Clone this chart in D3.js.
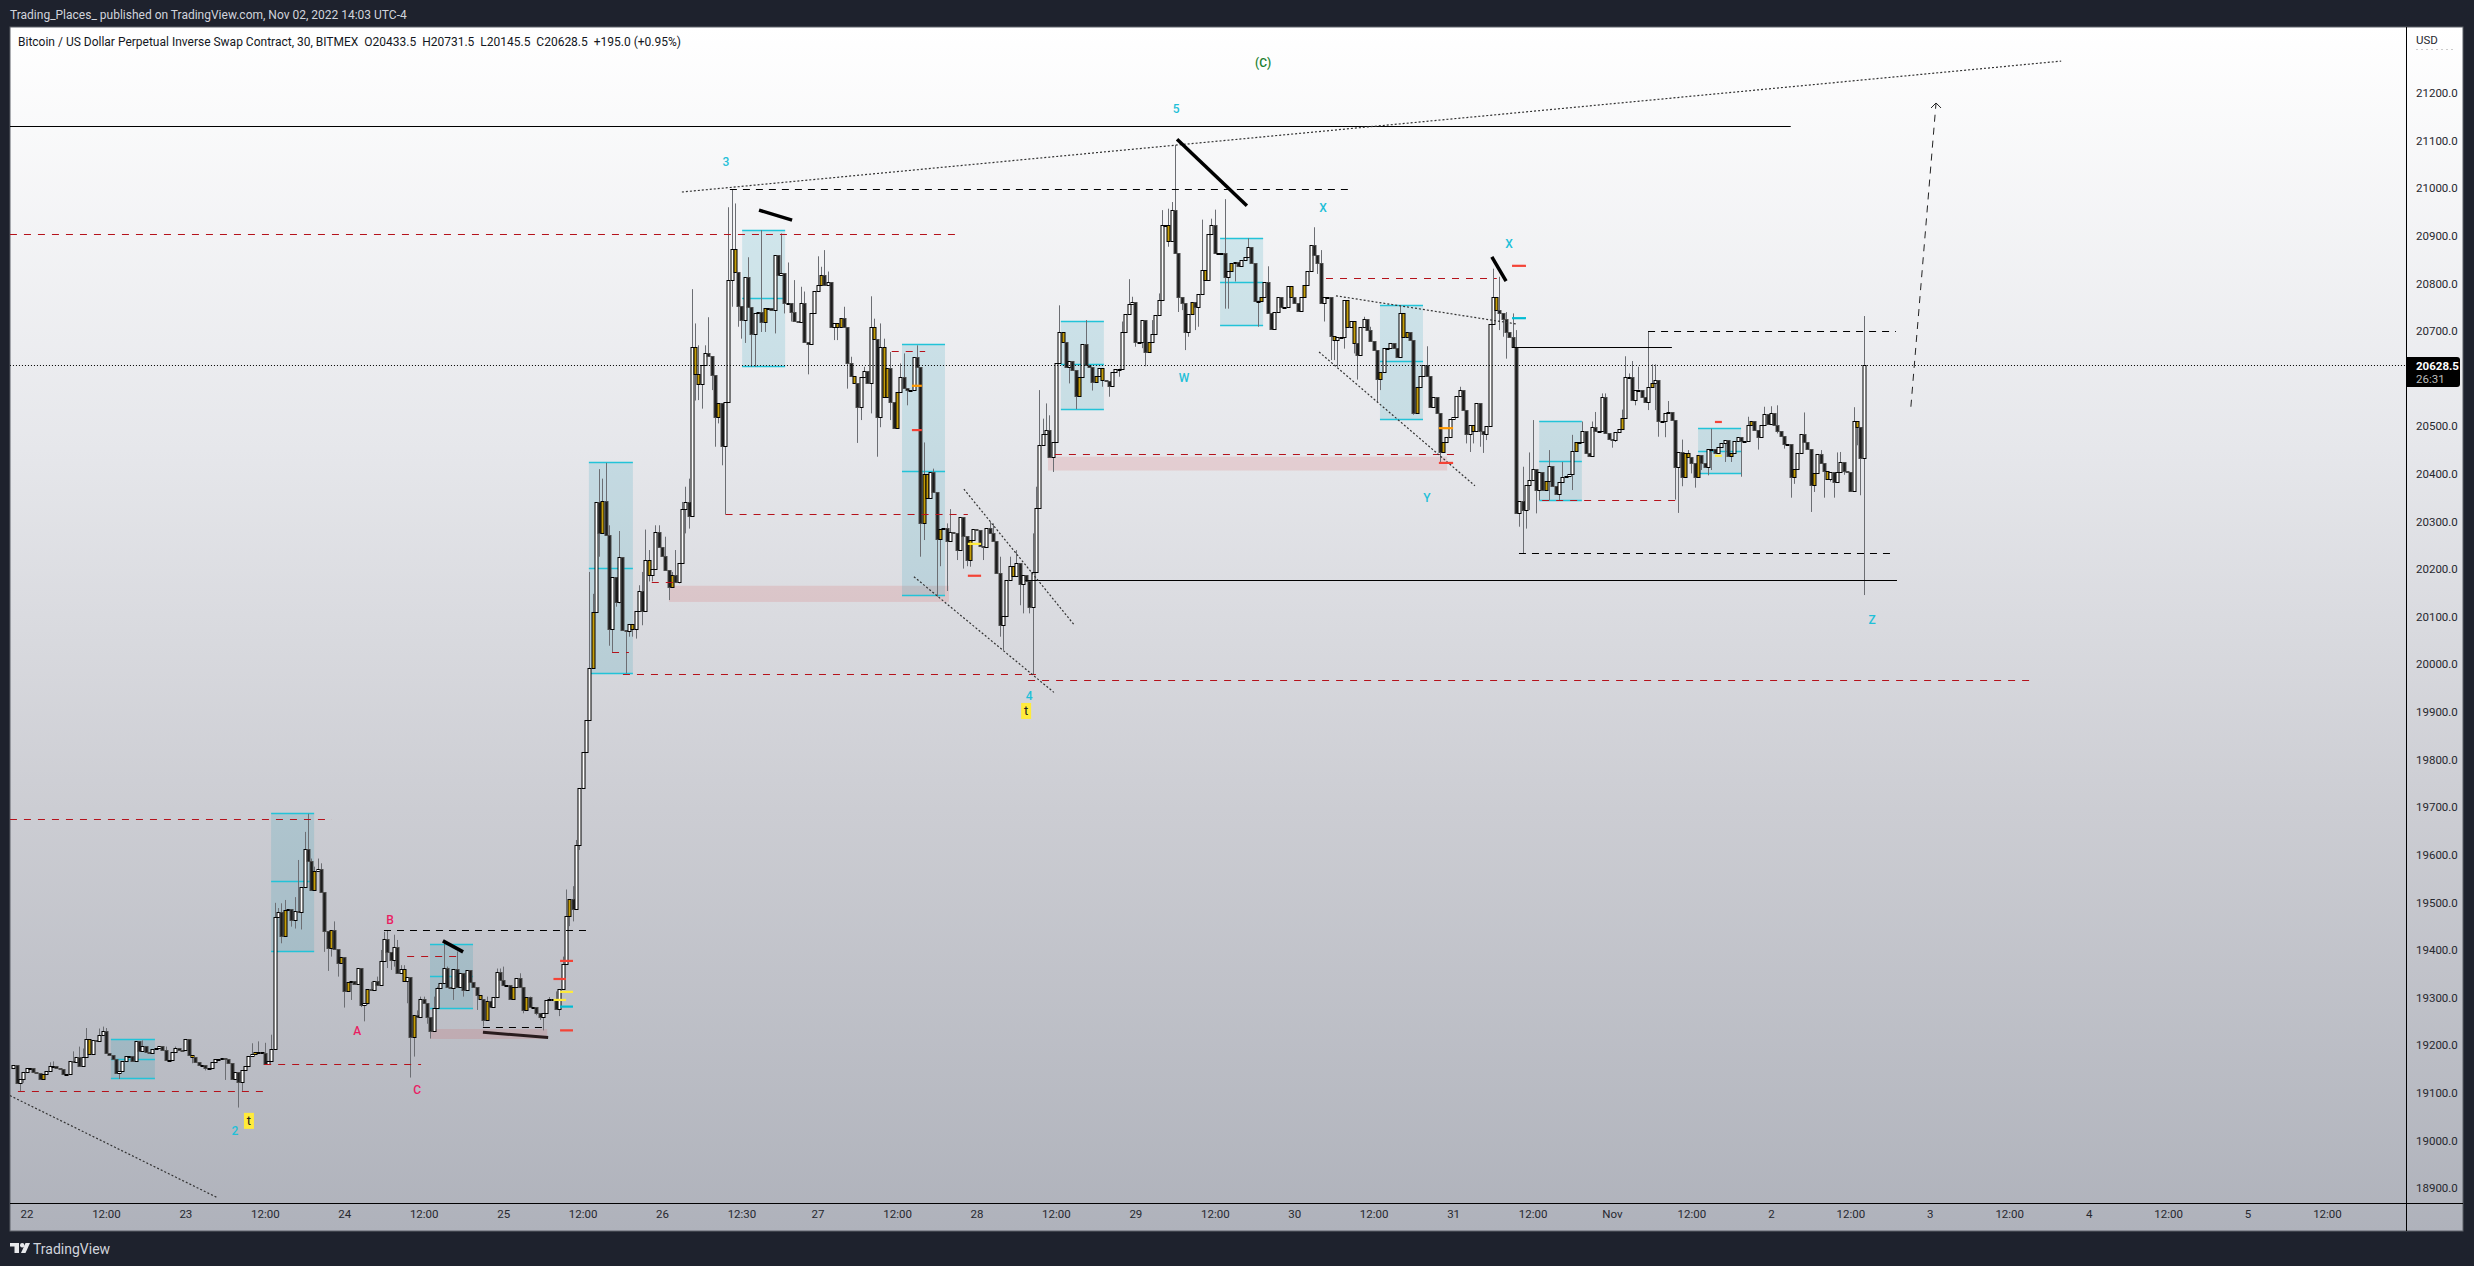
<!DOCTYPE html>
<html><head><meta charset="utf-8">
<script src="https://cdn.jsdelivr.net/npm/d3@7/dist/d3.min.js"></script>
<style>html,body{margin:0;padding:0;background:#1e222d}svg{display:block}text{font-family:Roboto,"Noto Sans",sans-serif}</style>
</head><body><div id="chart"></div>
<script>
// ---------- candle closes (30 minute bars) ----------
const firstBarIndex = -4, firstOpen = 19153;
const closesOct22 = [19158,19120,19129,19143,19152,19153,19143,19141,19129,19139,19145,19156,19157,19152,19150,19139,19139,19166,19165,19175,19156,19175,19213,19181,19210,19208,19221,19229,19183,19179,19172,19141,19145,19166,19177,19178,19166,19208,19187,19198,19185,19184,19191,19195,19198,19189,19168,19168,19186,19195,19190,19189,19213,19180,19175,19165,19158,19158,19153,19153,19164,19172,19172,19174,19172,19162,19129,19144,19122,19147,19156,19177,19181,19186,19186,19184,19160,19166,19193];
const closesOct23 = [19469,19479,19430,19483,19486,19463,19481,19479,19533,19613,19586,19525,19565,19570,19521,19440,19404,19441,19402,19372,19385,19313,19333,19334,19328,19362,19285,19288,19318,19316,19334,19326,19376,19424,19395,19379,19407,19351,19360,19334,19344,19217,19263,19260,19297,19288,19259,19230,19278,19320,19330,19362,19323,19320,19360,19323,19351,19315,19357,19332,19323,19306,19298,19252,19292,19281,19302,19353,19336,19326,19326,19297,19322,19341,19323,19273,19301,19281,19281,19267,19260,19267,19294,19298,19298,19276,19319,19371,19472,19507,19486,19620,19740,19816,19883,19992];
const closesOct25 = [20110,20340,20275,20342,20271,20075,20183,20130,20225,20073,20070,20084,20075,20113,20153,20112,20219,20187,20201,20277,20246,20228,20198,20163,20187,20173,20212,20327,20340,20312,20667,20610,20588,20629,20653,20647,20607,20520,20549,20458,20551,20808,20873,20823,20752,20723,20814,20750,20694,20737,20740,20718,20749,20749,20744,20859,20817,20822,20758,20758,20741,20722,20718,20759,20678,20673,20738,20785,20797,20817,20797,20803,20709,20717,20708,20728,20709,20633,20605,20591,20541,20603,20617,20590,20709,20684,20520,20667,20562,20622,20552,20496,20573,20603,20580,20576,20576,20645,20625,20296,20399,20350,20403,20362,20264,20285,20286,20258,20277,20275,20241,20309,20269,20219,20262,20285,20283,20248,20247,20287,20276,20258,20191,20082,20102,20178,20207,20186,20213,20168,20188,20176,20120,20194,20329,20460,20484,20492,20435,20467,20633,20698,20676,20625,20638,20619,20563,20604];
const closesOct28 = [20673,20628,20625,20592,20606,20622,20598,20596,20585,20615,20621,20621,20699,20736,20757,20760,20677,20677,20724,20656,20678,20694,20733,20766,20922,20922,20890,20954,20863,20771,20758,20699,20735,20762,20751,20777,20829,20808,20903,20922,20863,20864,20864,20813,20827,20842,20845,20836,20850,20855,20877,20843,20764,20764,20772,20804,20738,20705,20741,20772,20750,20750,20794,20771,20758,20743,20772,20796,20827,20880,20859,20842,20758,20772,20772,20690,20681,20687,20687,20766,20708,20722,20674,20650,20708,20726,20703,20680,20660,20600,20614,20665,20665,20674,20665,20646,20737,20687,20698,20682,20527,20583,20605,20628,20605,20540,20561,20528,20446,20467,20477,20516,20519,20564,20577,20535,20483,20502,20489,20548,20489,20484,20500,20715,20771,20745,20737,20726,20699,20688,20666,20318];
const closesOct31 = [20342,20325,20376,20388,20411,20367,20403,20367,20386,20416,20374,20358,20382,20393,20395,20399,20449,20467,20467,20489,20443,20437,20499,20489,20491,20562,20485,20474,20471,20487,20495,20518,20603,20603,20556,20577,20577,20562,20551,20583,20590,20598,20511,20511,20527,20530,20514,20414,20445,20394,20443,20435,20422,20393,20439,20423,20414,20453,20453,20443,20457,20464,20472,20437,20443,20468,20477,20468,20468,20502,20512,20493,20477,20502,20525,20505,20527,20502,20489,20480,20462,20462,20394,20411,20443,20483,20466,20453,20376,20401,20441,20422,20405,20390,20403,20382,20403,20424,20407,20403,20363,20512,20498,20433.5,20628.5];
const goldBars = [5,19,50,69,71,78,87,92,95,97,103,114,117,137,139,147,151,164,171,174,183,188,195,202,203,209,214,223,240,245,246,250,256,259,260,263,271,272,276,285,298,313,318,323,325,339,345,352,356,364,373,382,386,395,399,401,409,416,417,420,428,437,444,459,468,482,491,501,502,505,515,521,534,540,544,553];

// ---------- wick tips as [bar, price] ----------
const wicksOct22 = [[-2,19102],[-1,19121],[7,19164],[8,19166],[14,19187],[16,19197],[17,19193],[18,19236],[22,19235],[23,19239],[24,19236],[28,19129],[35,19210],[42,19197],[45,19197],[50,19162],[54,19147],[60,19127],[64,19069],[65,19104],[68,19204],[70,19208],[72,19205],[74,19222]];
const wicksOct23 = [[75,19499],[76,19488],[77,19414],[77,19498],[78,19505],[80,19449],[81,19511],[81,19445],[82,19589],[83,19443],[84,19648],[85,19686],[86,19592],[87,19575],[88,19592],[89,19582],[90,19396],[91,19356],[92,19386],[93,19460],[94,19344],[96,19279],[98,19295],[101,19280],[102,19250],[103,19285],[104,19333],[106,19344],[107,19400],[108,19438],[109,19440],[109,19362],[110,19358],[111,19432],[111,19365],[112,19421],[113,19368],[114,19368],[115,19288],[116,19132],[117,19176],[118,19273],[119,19302],[120,19302],[121,19245],[122,19214],[123,19302],[124,19323],[126,19421],[127,19365],[129,19295],[130,19397],[132,19302],[136,19274],[138,19239],[139,19302],[142,19361],[143,19361],[144,19365],[149,19351],[150,19267],[152,19302],[154,19263],[155,19253],[156,19231],[158,19301],[160,19275],[160,19313],[161,19261],[161,19316],[162,19386],[163,19527],[164,19450],[165,19534],[165,19460],[166,19631],[167,19610]];
const wicksOct25 = [[170,20194],[171,20148],[173,20410],[173,20226],[174,20390],[175,20423],[176,20039],[176,20292],[177,20026],[178,20121],[179,20280],[179,20128],[181,19981],[182,20058],[183,20058],[184,20054],[185,20166],[186,20194],[186,20082],[187,20283],[188,20240],[188,20174],[189,20174],[190,20292],[191,20292],[192,20240],[193,20268],[194,20135],[195,20194],[196,20240],[197,20170],[198,20341],[199,20373],[199,20275],[200,20390],[200,20285],[201,20788],[202,20716],[202,20554],[203,20670],[203,20555],[204,20537],[205,20670],[206,20729],[207,20576],[208,20457],[209,20506],[210,20418],[211,20315],[212,20960],[213,20997],[213,20751],[214,20968],[215,20709],[216,20684],[217,20675],[218,20855],[219,20625],[220,20625],[222,20912],[222,20698],[223,20698],[226,20695],[228,20905],[229,20737],[230,20844],[231,20720],[232,20807],[234,20793],[235,20783],[236,20609],[239,20857],[240,20835],[241,20870],[242,20825],[244,20681],[245,20681],[247,20751],[248,20579],[249,20646],[251,20465],[252,20513],[253,20625],[255,20773],[255,20527],[256,20726],[257,20436],[258,20716],[258,20498],[259,20684],[261,20656],[261,20513],[264,20632],[265,20653],[266,20544],[269,20670],[270,20226],[271,20466],[271,20261],[274,20411],[275,20142],[276,20206],[278,20154],[278,20296],[279,20326],[281,20219],[283,20201],[284,20206],[285,20205],[289,20219],[291,20300],[292,20296],[294,20058],[294,20226],[295,20030],[297,20226],[299,20240],[300,20124],[301,20107],[303,20107],[304,19978],[304,20275],[305,20373],[306,20576],[307,20516],[308,20548],[309,20523],[310,20404],[312,20754],[315,20590],[317,20536]];
const wicksOct28 = [[320,20723],[322,20575],[325,20583],[327,20562],[330,20604],[331,20720],[333,20809],[334,20772],[335,20667],[337,20664],[338,20626],[340,20723],[342,20779],[343,20954],[345,20957],[345,20877],[346,20971],[347,21090.5],[348,20740],[349,20744],[350,20660],[351,20688],[353,20702],[354,20709],[355,20934],[356,20807],[358,20936],[359,20955],[362,20977],[362,20747],[363,20747],[365,20804],[369,20895],[372,20709],[375,20836],[389,20918],[390,20820],[391,20870],[392,20720],[394,20639],[395,20639],[396,20625],[398,20663],[401,20653],[402,20598],[404,20730],[406,20709],[408,20551],[409,20576],[415,20754],[419,20524],[423,20668],[426,20527],[427,20422],[433,20583],[435,20464],[436,20446],[437,20464],[439,20457],[440,20444],[441,20471],[443,20831],[445,20814],[445,20702],[446,20688],[447,20740],[447,20642],[449,20737],[450,20702]];
const wicksOct31 = [[451,20289],[452,20233],[452,20415],[453,20285],[454,20445],[454,20324],[455,20513],[456,20317],[457,20345],[460,20450],[460,20345],[463,20345],[464,20425],[467,20482],[467,20366],[470,20510],[473,20510],[474,20530],[476,20569],[477,20569],[479,20455],[480,20467],[482,20535],[483,20647],[484,20611],[485,20637],[486,20544],[487,20625],[490,20699],[490,20534],[491,20630],[492,20630],[492,20534],[493,20478],[495,20477],[496,20553],[498,20346],[499,20318],[500,20472],[500,20374],[502,20450],[503,20401],[504,20371],[506,20408],[508,20397],[509,20495],[509,20408],[513,20425],[515,20425],[518,20394],[520,20520],[523,20451],[525,20541],[527,20542],[529,20544],[529,20485],[531,20453],[533,20350],[534,20379],[537,20529],[539,20320],[540,20362],[542,20450],[543,20350],[545,20384],[546,20350],[547,20445],[548,20446],[549,20398],[552,20540],[553,20460],[554,20355],[555,20731.5],[555,20145.5]];

// ---------- axes ----------
const priceTicks = [21200,21100,21000,20900,20800,20700,20500,20400,20300,20200,20100,20000,19900,19800,19700,19600,19500,19400,19300,19200,19100,19000,18900];
const timeTickBars = [0,24,48,72,96,120,144,168,192,216,239,263,287,311,335,359,383,407,431,455,479,503,527,551,575,599,623,647,671,695];
const timeTickLabels = ["22","12:00","23","12:00","24","12:00","25","12:00","26","12:30","27","12:00","28","12:00","29","12:00","30","12:00","31","12:00","Nov","12:00","2","12:00","3","12:00","4","12:00","5","12:00"];
const lastPrice = 20628.5;

// ---------- drawings: [bar0, bar1, top, mid, bottom] ----------
const fibBoxes = [[25.5,38.8,19211,19169,19129],[73.9,86.9,19686,19543,19396],[121.9,134.9,19411,19344,19278],[169.9,183.2,20423,20202,19980],[216.2,229.2,20912,20769,20625],[264.5,277.5,20671,20406,20144],[312.5,325.5,20721,20629,20536],[360.6,373.6,20895,20803,20711],[408.9,421.9,20753,20635,20515],[457,469.9,20511,20427,20345],[505,518,20496,20448,20400]];
const pinkZones = [[121.9,157.3,19234,19213],[194.1,278.7,20165,20131],[308.6,429.2,20436,20407]];
const redDashed = [[-5,92.3,19673],[-2.6,72.4,19103],[71.8,119.2,19160],[115,130,19387],[-5,282.3,20903],[176.9,182,20024],[180.2,306.2,19979],[188.9,197.4,20171],[211.2,284.4,20315],[261.4,271.5,20656],[302.6,606.5,19967],[310.7,431.9,20441],[392.6,444.2,20811],[457.9,499.2,20345]];
const blackSolid = [[-5,533,21129],[301.7,565.1,20176],[448.8,497.1,20666]];
const blackDashed = [[212.5,399.2,20998],[108,169.3,19440],[137.9,156,19238],[489.9,564.8,20700],[450.9,564.5,20233]];
const dottedTrends = [[-5,19094,57.6,18880],[198,20992,614.7,21267],[283.2,20368,316.5,20083],[268.1,20184,310.4,19941],[395.6,20774,450,20715],[390.5,20656,437.6,20375]];
const thickTrends = [[125.8,19419,131.9,19396,3.5,"#000"],[137.9,19227,157.6,19216,3,"#2a1c1e"],[221.3,20954,231.3,20933,3.5,"#000"],[347.6,21103,368.7,20963,3.5,"#000"],[442.7,20856,447,20805,3.5,"#000"]];
const shortTicks = [[161.2,165.1,19377,"#f44336"],[159.2,163,19339,"#f44336"],[161.2,165.1,19312,"#ffeb3b"],[159.2,163,19295,"#ffeb3b"],[161.2,165.1,19281,"#00bcd4"],[161.2,165.1,19231,"#f44336"],[267.5,270.5,20585,"#ff9800"],[267.5,270.5,20492,"#f44336"],[284.4,288.4,20253,"#ffeb3b"],[284.4,288.4,20186,"#f44336"],[448.8,453,20837,"#f44336"],[448.8,453,20727,"#00bcd4"],[426.7,431,20496,"#ff9800"],[426.7,431,20423,"#f44336"],[510.1,512.2,20509,"#f44336"],[510.1,512.2,20438,"#ffeb3b"]];
const waveLabels = [[373.6,21263,"(C)","#1b7f2e"],[347.3,21166,"5","#1fc0d8"],[211.3,21055,"3","#1fc0d8"],[391.7,20958,"X","#1fc0d8"],[447.9,20883,"X","#1fc0d8"],[349.7,20601,"W","#1fc0d8"],[423.1,20349,"Y","#1fc0d8"],[557.6,20093,"Z","#1fc0d8"],[302.9,19934,"4","#1fc0d8"],[63,19020,"2","#1fc0d8"],[99.9,19230,"A","#e91e63"],[109.8,19463,"B","#e91e63"],[118,19106,"C","#e91e63"]];
const tTags = [[302,19902],[67.2,19041]];
const arrowPath = [569.3,20541,576.9,21179];

const W = 2474, H = 1266, L = 10, T = 27, R = 2463, B = 1231, PR = 2406.5, TB = 1203.5;
const x = d3.scaleLinear().domain([0,555]).range([26.5,1863.55]);
const y = d3.scaleLinear().domain([21200,18900]).range([93,1188]);

const closes = [...closesOct22,...closesOct23,...closesOct25,...closesOct28,...closesOct31];
const gold = new Set(goldBars);
const bars = closes.map((c,k)=>({i:firstBarIndex+k,o:k?closes[k-1]:firstOpen,c}));
const wicks = [...wicksOct22,...wicksOct23,...wicksOct25,...wicksOct28,...wicksOct31];
const byIndex = new Map(bars.map(b=>[b.i,b]));

const svg = d3.select("#chart").append("svg").attr("width",W).attr("height",H);
const defs = svg.append("defs");
const grad = defs.append("linearGradient").attr("id","bg").attr("x1",0).attr("x2",0).attr("y1",0).attr("y2",1);
[[0,"#ffffff"],[0.35,"#e6e7eb"],[0.65,"#cccdd3"],[1,"#afb2bb"]].forEach(s=>grad.append("stop").attr("offset",s[0]).attr("stop-color",s[1]));
defs.append("clipPath").attr("id","plot").append("rect").attr("x",L).attr("y",T).attr("width",PR-L).attr("height",TB-T);

svg.append("rect").attr("width",W).attr("height",H).attr("fill","#1e222d");
svg.append("rect").attr("x",L).attr("y",T).attr("width",R-L).attr("height",B-T).attr("fill","url(#bg)").attr("stroke","#5d6069");

const plot = svg.append("g").attr("clip-path","url(#plot)");
const px = v=>Math.round(x(v));

// pink zones and boxes
plot.append("g").selectAll("rect").data(pinkZones).join("rect")
 .attr("x",d=>x(d[0])).attr("width",d=>x(d[1])-x(d[0])).attr("y",d=>y(d[2])).attr("height",d=>y(d[3])-y(d[2])).attr("fill","rgba(215,70,70,.15)");
plot.append("g").selectAll("rect").data(fibBoxes).join("rect")
 .attr("x",d=>x(d[0])).attr("width",d=>x(d[1])-x(d[0])).attr("y",d=>y(d[2])).attr("height",d=>y(d[4])-y(d[2])).attr("fill","rgba(0,150,175,.14)");
const hline = (g,data,col,w,dash)=>g.append("g").selectAll("line").data(data).join("line")
 .attr("x1",d=>x(d[0])).attr("x2",d=>x(d[1])).attr("y1",d=>Math.floor(y(d[2]))+.5).attr("y2",d=>Math.floor(y(d[2]))+.5)
 .attr("stroke",col).attr("stroke-width",w).attr("stroke-dasharray",dash||null);
[2,3,4].forEach(k=>hline(plot,fibBoxes.map(d=>[d[0],d[1],d[k]]),"#22c3d8",1.6));

// wicks then candles
plot.append("g").selectAll("line").data(wicks).join("line")
 .attr("x1",d=>px(d[0])+.5).attr("x2",d=>px(d[0])+.5)
 .attr("y1",d=>y(d[1])).attr("y2",d=>{const b=byIndex.get(d[0]);return y((b.o+b.c)/2);})
 .attr("stroke","#6c6e73").attr("stroke-width",1);
plot.append("g").selectAll("rect").data(bars).join("rect")
 .attr("x",d=>px(d.i)-1).attr("width",3)
 .attr("y",d=>Math.round(y(Math.max(d.o,d.c)))+.5)
 .attr("height",d=>Math.max(1,Math.round(y(Math.min(d.o,d.c)))-Math.round(y(Math.max(d.o,d.c)))))
 .attr("fill",d=>gold.has(d.i)?"#c49d0a":(d.c>=d.o?"#ffffff":"#1c1c1c"))
 .attr("stroke",d=>(d.c>=d.o||gold.has(d.i))?"#000":"#4a4a4a").attr("stroke-width",1);

// level lines
hline(plot,redDashed,"#b5121b",1,"7 7");
hline(plot,blackSolid,"#000",1.2);
hline(plot,blackDashed,"#000",1,"7 6");
hline(plot,[[-5,720,lastPrice]],"#000",1,"1 2");

plot.append("g").selectAll("line").data(dottedTrends).join("line")
 .attr("x1",d=>x(d[0])).attr("y1",d=>y(d[1])).attr("x2",d=>x(d[2])).attr("y2",d=>y(d[3]))
 .attr("stroke","#333").attr("stroke-width",1.2).attr("stroke-dasharray","2 2");
plot.append("g").selectAll("line").data(thickTrends).join("line")
 .attr("x1",d=>x(d[0])).attr("y1",d=>y(d[1])).attr("x2",d=>x(d[2])).attr("y2",d=>y(d[3]))
 .attr("stroke",d=>d[5]).attr("stroke-width",d=>d[4]);
plot.append("g").selectAll("line").data(shortTicks).join("line")
 .attr("x1",d=>x(d[0])).attr("x2",d=>x(d[1])).attr("y1",d=>y(d[2])).attr("y2",d=>y(d[2]))
 .attr("stroke",d=>d[3]).attr("stroke-width",2.2);

// dashed arrow
const [ax0,ay0,ax1,ay1] = [x(arrowPath[0]),y(arrowPath[1]),x(arrowPath[2]),y(arrowPath[3])];
plot.append("line").attr("x1",ax0).attr("y1",ay0).attr("x2",ax1).attr("y2",ay1).attr("stroke","#222").attr("stroke-width",1).attr("stroke-dasharray","7 6");
plot.append("path").attr("d",d3.line()([[ax1-5,ay1+5],[ax1,ay1],[ax1+5,ay1+5]])).attr("fill","none").attr("stroke","#222").attr("stroke-width",1);

// labels
plot.append("g").selectAll("text").data(waveLabels).join("text")
 .attr("x",d=>x(d[0])).attr("y",d=>y(d[1])).attr("text-anchor","middle").attr("dominant-baseline","central")
 .attr("fill",d=>d[3]).attr("font-size",12).attr("font-weight",500).text(d=>d[2]);
const tag = plot.append("g").selectAll("g").data(tTags).join("g");
tag.append("rect").attr("x",d=>x(d[0])-5).attr("y",d=>y(d[1])-8).attr("width",10).attr("height",16).attr("fill","#ffeb3b");
tag.append("text").attr("x",d=>x(d[0])).attr("y",d=>y(d[1])).attr("text-anchor","middle").attr("dominant-baseline","central").attr("font-size",13).attr("fill","#222").text("t");

// axes
svg.append("line").attr("x1",PR).attr("x2",PR).attr("y1",T).attr("y2",B).attr("stroke","#000");
svg.append("line").attr("x1",L).attr("x2",R).attr("y1",TB).attr("y2",TB).attr("stroke","#000");
const yAxis = d3.axisRight(y).tickValues(priceTicks).tickSize(0).tickPadding(0).tickFormat(d3.format(".1f"));
const gy = svg.append("g").attr("transform","translate(2416,0)").call(yAxis);
gy.select(".domain").remove();
gy.selectAll("text").attr("font-size",11.5).attr("fill","#26282f").attr("x",0).attr("font-family","Roboto");
const timeAxisScale = d3.scaleOrdinal().domain(timeTickBars).range(timeTickLabels);
const xAxis = d3.axisBottom(x).tickValues(timeTickBars).tickSize(0).tickPadding(0).tickFormat(d=>timeAxisScale(d));
const gx = svg.append("g").attr("transform","translate(0,1210)").call(xAxis);
gx.select(".domain").remove();
gx.selectAll("text").attr("font-size",11.5).attr("fill","#26282f").attr("font-family","Roboto");

// price label
svg.append("path").attr("d","M2407 357H2457a3 3 0 0 1 3 3V384a3 3 0 0 1 -3 3H2407Z").attr("fill","#000");
svg.append("text").attr("x",2416).attr("y",366).attr("dominant-baseline","central").attr("font-size",11.5).attr("font-weight",700).attr("fill","#fff").text(d3.format(".1f")(lastPrice));
svg.append("text").attr("x",2416).attr("y",379).attr("dominant-baseline","central").attr("font-size",11.5).attr("fill","#bdbdbd").text("26:31");
svg.append("text").attr("x",2416).attr("y",40).attr("dominant-baseline","central").attr("font-size",11.5).attr("fill","#26282f").text("USD");
svg.append("line").attr("x1",2416).attr("x2",2453).attr("y1",49.5).attr("y2",49.5).attr("stroke","#ccc").attr("stroke-dasharray","2 3");

// header and footer
svg.append("text").attr("x",10).attr("y",15).attr("dominant-baseline","central").attr("font-size",12).attr("fill","#d1d4dc").text("Trading_Places_ published on TradingView.com, Nov 02, 2022 14:03 UTC-4");
svg.append("text").attr("x",18).attr("y",42).attr("dominant-baseline","central").attr("font-size",12).attr("fill","#131722").attr("xml:space","preserve").text("Bitcoin / US Dollar Perpetual Inverse Swap Contract, 30, BITMEX  O20433.5  H20731.5  L20145.5  C20628.5  +195.0 (+0.95%)");
const logo = svg.append("g").attr("fill","#e8e9ec");
logo.append("path").attr("d","M10 1243H19V1253H14.5V1246.5H10Z");
logo.append("circle").attr("cx",22.2).attr("cy",1245.2).attr("r",2.2);
logo.append("path").attr("d","M25.5 1243H30L25.5 1253H21Z");
svg.append("text").attr("x",33).attr("y",1249).attr("dominant-baseline","central").attr("font-size",14).attr("fill","#d1d4dc").text("TradingView");
</script></body></html>
